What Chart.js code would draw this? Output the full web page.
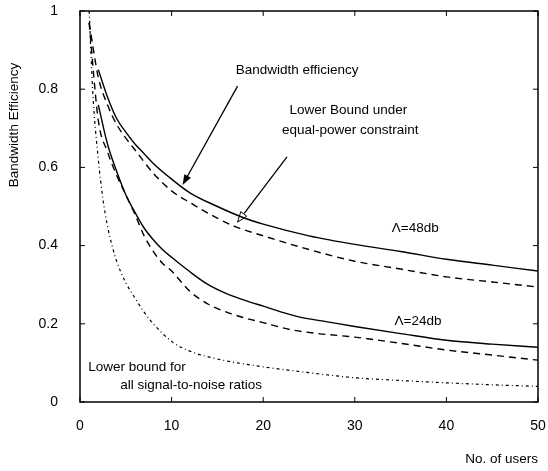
<!DOCTYPE html>
<html lang="en">
<head>
<meta charset="UTF-8">
<title>Bandwidth Efficiency vs No. of users</title>
<script src="https://cdn.jsdelivr.net/npm/chart.js"></script>
<style>
  html, body { margin: 0; padding: 0; background: #fff; }
  #wrap { width: 548px; height: 471px; }
</style>
</head>
<body>
<div id="wrap"><canvas id="myChart" width="548" height="471"></canvas></div>
<script>
// values
const xTicks = [0, 10, 20, 30, 40, 50];
const yTicks = [0, 0.2, 0.4, 0.6, 0.8, 1];

const x48Solid = [2, 3, 4, 5, 6, 7, 8, 10, 12, 15, 18, 20, 25, 30, 35, 40, 45, 50];
const y48Solid = [0.85, 0.78, 0.725, 0.69, 0.66, 0.635, 0.61, 0.57, 0.535, 0.50, 0.47, 0.455, 0.425, 0.403, 0.385, 0.365, 0.35, 0.335];

const x48Dash = [1, 2, 3, 4, 5, 6, 8, 10, 12, 15, 17, 20, 25, 30, 35, 40, 45, 50];
const y48Dash = [0.97, 0.83, 0.76, 0.71, 0.675, 0.645, 0.585, 0.54, 0.51, 0.47, 0.448, 0.425, 0.39, 0.36, 0.34, 0.32, 0.307, 0.294];

const x24Solid = [2, 3, 4, 5, 6, 7, 8, 9, 10, 12, 14, 16, 18, 20, 22, 24, 27, 30, 35, 40, 45, 50];
const y24Solid = [0.76, 0.66, 0.59, 0.53, 0.485, 0.445, 0.415, 0.39, 0.37, 0.333, 0.30, 0.277, 0.26, 0.245, 0.23, 0.217, 0.205, 0.193, 0.175, 0.158, 0.148, 0.14];

const x24Dash = [1, 2, 3, 4, 5, 6, 7, 8, 9, 10, 12, 14, 16, 18, 20, 23, 26, 30, 35, 40, 45, 50];
const y24Dash = [0.97, 0.72, 0.64, 0.58, 0.53, 0.48, 0.425, 0.385, 0.355, 0.335, 0.283, 0.25, 0.23, 0.215, 0.203, 0.185, 0.175, 0.166, 0.15, 0.133, 0.12, 0.107];

const xLower = [1, 1.4, 2, 2.5, 3, 3.5, 4, 5, 6, 7, 8, 10, 12, 15, 20, 25, 30, 35, 40, 45, 50];
const yLower = [1.0, 0.79, 0.62, 0.52, 0.45, 0.40, 0.36, 0.305, 0.266, 0.23, 0.20, 0.155, 0.13, 0.11, 0.09, 0.075, 0.062, 0.055, 0.049, 0.044, 0.04];

const toPoints = (xs, ys) => xs.map((x, i) => ({ x: x, y: ys[i] }));

const FONT = '"Liberation Sans", Arial, Helvetica, sans-serif';

// draws frame, inward ticks, labels and arrows
const decorations = {
    id: 'decorations',
    afterDatasetsDraw(chart) {
        const ctx = chart.ctx;
        const area = chart.chartArea;
        const sx = chart.scales.x;
        const sy = chart.scales.y;
        const px = v => sx.getPixelForValue(v);
        const py = v => sy.getPixelForValue(v);

        ctx.save();
        ctx.strokeStyle = '#000';
        ctx.lineWidth = 1.5;
        ctx.strokeRect(area.left, area.top, area.right - area.left, area.bottom - area.top);

        // inward ticks on all four sides
        ctx.lineWidth = 1;
        ctx.beginPath();
        xTicks.forEach(v => {
            ctx.moveTo(px(v), area.bottom); ctx.lineTo(px(v), area.bottom - 5);
            ctx.moveTo(px(v), area.top); ctx.lineTo(px(v), area.top + 5);
        });
        yTicks.forEach(v => {
            ctx.moveTo(area.left, py(v)); ctx.lineTo(area.left + 5, py(v));
            ctx.moveTo(area.right, py(v)); ctx.lineTo(area.right - 5, py(v));
        });
        ctx.stroke();

        // texts
        ctx.fillStyle = '#000';
        ctx.font = '13.5px ' + FONT;
        ctx.textBaseline = 'middle';
        ctx.textAlign = 'center';
        ctx.fillText('Bandwidth efficiency', px(23.7), py(0.849));
        ctx.fillText('Lower Bound under', px(29.3), py(0.747));
        ctx.fillText('equal-power constraint', px(29.5), py(0.696));
        ctx.fillText('\u039B=48db', px(36.6), py(0.445));
        ctx.fillText('\u039B=24db', px(36.9), py(0.207));
        ctx.textAlign = 'left';
        ctx.fillText('Lower bound for', px(0.9), py(0.09));
        ctx.fillText('all signal-to-noise ratios', px(4.4), py(0.043));

        // axis titles
        ctx.textAlign = 'right';
        ctx.fillText('No. of users', area.right, 459);
        ctx.save();
        ctx.translate(14, 125);
        ctx.rotate(-Math.PI / 2);
        ctx.textAlign = 'center';
        ctx.fillText('Bandwidth Efficiency', 0, 0);
        ctx.restore();

        // arrows
        const arrow = (x1, y1, x2, y2, filled) => {
            const a = px(x1), b = py(y1), c = px(x2), d = py(y2);
            const ang = Math.atan2(d - b, c - a);
            const len = 11, w = 0.35;
            ctx.lineWidth = 1.3;
            ctx.beginPath();
            ctx.moveTo(a, b);
            ctx.lineTo(c - Math.cos(ang) * (filled ? 4 : len), d - Math.sin(ang) * (filled ? 4 : len));
            ctx.stroke();
            ctx.beginPath();
            ctx.moveTo(c, d);
            ctx.lineTo(c - len * Math.cos(ang - w), d - len * Math.sin(ang - w));
            ctx.lineTo(c - len * Math.cos(ang + w), d - len * Math.sin(ang + w));
            ctx.closePath();
            if (filled) { ctx.fill(); } else { ctx.lineWidth = 1; ctx.stroke(); }
        };
        arrow(17.2, 0.808, 11.2, 0.555, true);
        arrow(22.6, 0.627, 17.2, 0.46, false);

        ctx.restore();
    }
};

// kill the label overhang padding so the plot box lands where it should
const noOverhang = s => { s.paddingTop = 0; s.paddingBottom = 0; s.paddingLeft = 0; s.paddingRight = 0; };

const solid = { borderColor: '#000', borderWidth: 1.4, pointRadius: 0, fill: false, cubicInterpolationMode: 'monotone' };

const ctx = document.getElementById('myChart').getContext('2d');
const myChart = new Chart(ctx, {
    type: 'line',
    data: {
        datasets: [
            { ...solid, label: 'Bandwidth efficiency, 48db', data: toPoints(x48Solid, y48Solid) },
            { ...solid, label: 'Lower bound equal-power, 48db', data: toPoints(x48Dash, y48Dash), borderDash: [7, 5] },
            { ...solid, label: 'Bandwidth efficiency, 24db', data: toPoints(x24Solid, y24Solid) },
            { ...solid, label: 'Lower bound equal-power, 24db', data: toPoints(x24Dash, y24Dash), borderDash: [7, 5] },
            { ...solid, label: 'Lower bound all SNR', data: toPoints(xLower, yLower), borderWidth: 1.2, borderDash: [3, 3, 1, 3] }
        ]
    },
    options: {
        responsive: false,
        animation: false,
        parsing: false,
        layout: { padding: { top: 11, right: 10, left: 0, bottom: 0 } },
        plugins: { legend: { display: false }, tooltip: { enabled: false } },
        scales: {
            x: {
                type: 'linear',
                min: 0, max: 50,
                grid: { display: false, drawTicks: false },
                border: { display: false },
                afterBuildTicks: s => { s.ticks = xTicks.map(v => ({ value: v })); },
                afterFit: s => { s.height = 69; noOverhang(s); },
                ticks: { color: '#000', padding: 16, font: { size: 14, family: FONT }, maxRotation: 0 }
            },
            y: {
                min: 0, max: 1,
                grid: { display: false, drawTicks: false },
                border: { display: false },
                afterBuildTicks: s => { s.ticks = yTicks.map(v => ({ value: v })); },
                afterFit: s => { s.width = 80; noOverhang(s); },
                ticks: { color: '#000', padding: 22, font: { size: 14, family: FONT }, callback: v => String(v) }
            }
        }
    },
    plugins: [decorations]
});
</script>
</body>
</html>
